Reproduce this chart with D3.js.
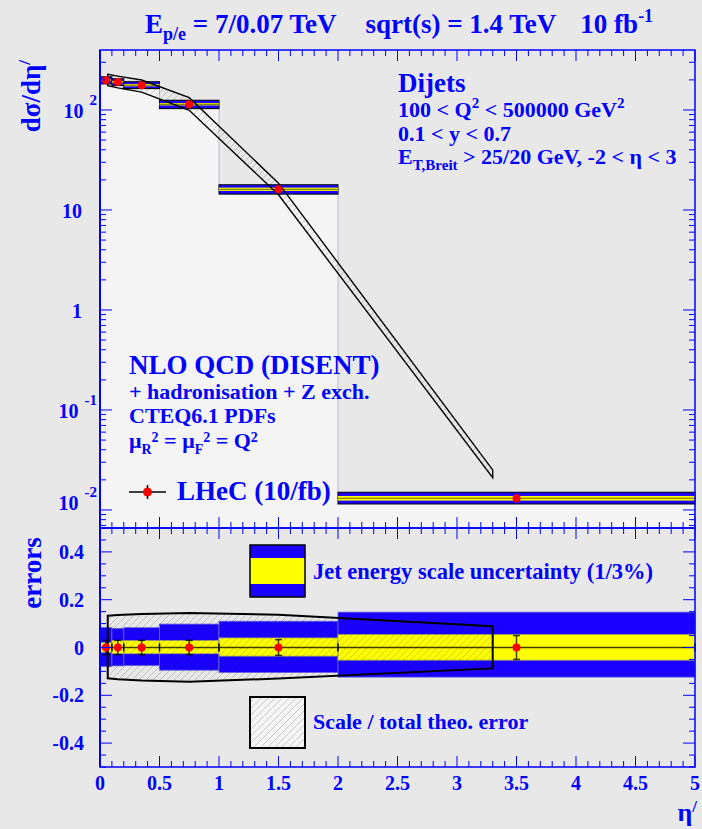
<!DOCTYPE html>
<html>
<head>
<meta charset="utf-8">
<title>LHeC dijets eta'</title>
<script src="https://cdn.jsdelivr.net/npm/d3@7"></script>
<style>
body { margin: 0; background: #e8e8e8; }
svg text { font-family: "Liberation Serif", "Times New Roman", serif; font-weight: bold; fill: #0000ff; white-space: pre; }
</style>
</head>
<body>
<svg id="chart" width="702" height="829"></svg>
<script>
'use strict';

// eta' binning and LHeC pseudo data (dsigma/deta')
var binEdges = [0, 0.1, 0.2, 0.5, 1, 2, 5];
var binCenters = [0.05, 0.15, 0.35, 0.75, 1.5, 3.5];
var xsec = [198, 190, 177, 114, 16.1, 0.0131];
var statErr = [0.03, 0.03, 0.03, 0.03, 0.033, 0.05];

// jet energy scale uncertainty, relative: 3% (blue) and 1% (yellow)
var jes3Up = [0.084, 0.08, 0.083, 0.098, 0.11, 0.148];
var jes3Dn = [0.08, 0.077, 0.076, 0.095, 0.105, 0.124];
var jes1Up = [0.02, 0.029, 0.029, 0.029, 0.04, 0.054];
var jes1Dn = [0.02, 0.026, 0.026, 0.026, 0.036, 0.053];

// NLO QCD (DISENT) with scale uncertainty
var theoEta = [0.065, 0.15, 0.35, 0.75, 1.5, 3.3];
var theoXsec = [201, 192, 175, 116, 16.3, 0.0231];
var theoUp = [0.133, 0.136, 0.14, 0.144, 0.137, 0.089];
var theoDn = [0.129, 0.133, 0.138, 0.143, 0.13, 0.0875];

// axis labels
var xTickLabels = ["0", "0.5", "1", "1.5", "2", "2.5", "3", "3.5", "4", "4.5", "5"];
var logTicks = [100, 10, 1, 0.1, 0.01];
var logTickBase = ["10", "10", "1", "10", "10"];
var logTickExp = ["2", "", "", "-1", "-2"];
var errTicks = [0.4, 0.2, 0, -0.2, -0.4];
var errTickLabels = ["0.4", "0.2", "0", "-0.2", "-0.4"];

var blue = "#0000ff";
var bandBlue = "#1a00ff";
var bandYellow = "#ffff00";

var svg = d3.select("#chart");

var x = d3.scaleLinear().domain([0, 5]).range([100, 695]);
var yTop = d3.scaleLog().domain([0.0066, 398]).range([528, 50]);
var yBot = d3.scaleLinear().domain([-0.5, 0.5]).range([767, 528]);

var defs = svg.append("defs");
defs.append("pattern")
    .attr("id", "hatch")
    .attr("patternUnits", "userSpaceOnUse")
    .attr("width", 7)
    .attr("height", 7)
    .append("path")
    .attr("d", "M-1,1 l2,-2 M0,7 l7,-7 M6,8 l2,-2")
    .attr("stroke", "rgba(0,0,0,0.22)")
    .attr("stroke-width", 0.8);

var line = d3.line();

// ---------- upper panel ----------
var upper = svg.append("g");

// histogram fill under the data
var histPts = [[x(0), yTop.range()[0]]];
xsec.forEach(function (v, i) {
    histPts.push([x(binEdges[i]), yTop(v)]);
    histPts.push([x(binEdges[i + 1]), yTop(v)]);
});
histPts.push([x(5), yTop.range()[0]]);
upper.append("path")
    .attr("d", line(histPts) + "Z")
    .attr("fill", "#f4f4f4")
    .attr("stroke", "#b8b8c8")
    .attr("stroke-width", 1);

// jes bands
xsec.forEach(function (v, i) {
    var x0 = x(binEdges[i]), x1 = x(binEdges[i + 1]);
    upper.append("rect")
        .attr("x", x0).attr("width", x1 - x0)
        .attr("y", yTop(v * (1 + jes3Up[i])))
        .attr("height", yTop(v * (1 - jes3Dn[i])) - yTop(v * (1 + jes3Up[i])))
        .attr("fill", bandBlue)
        .attr("stroke", "#000").attr("stroke-width", 1);
    upper.append("rect")
        .attr("x", x0).attr("width", x1 - x0)
        .attr("y", yTop(v * (1 + jes1Up[i])))
        .attr("height", yTop(v * (1 - jes1Dn[i])) - yTop(v * (1 + jes1Up[i])))
        .attr("fill", bandYellow);
    upper.append("line")
        .attr("x1", x0).attr("x2", x1)
        .attr("y1", yTop(v)).attr("y2", yTop(v))
        .attr("stroke", "#000").attr("stroke-opacity", 0.6).attr("stroke-width", 1);
});

// theory envelope
var theoTop = theoEta.map(function (e, i) { return [x(e), yTop(theoXsec[i] * (1 + theoUp[i]))]; });
var theoBottom = theoEta.map(function (e, i) { return [x(e), yTop(theoXsec[i] * (1 - theoDn[i]))]; }).reverse();
upper.append("path")
    .attr("d", line(theoTop.concat(theoBottom)) + "Z")
    .attr("fill", "url(#hatch)")
    .attr("stroke", "#000")
    .attr("stroke-width", 1.4);

// data points
xsec.forEach(function (v, i) {
    var cx = x(binCenters[i]);
    var ya = yTop(v * (1 + statErr[i])), yb = yTop(v * (1 - statErr[i]));
    upper.append("line").attr("x1", cx).attr("x2", cx).attr("y1", ya).attr("y2", yb)
        .attr("stroke", "#000").attr("stroke-width", 1.5);
    upper.append("line").attr("x1", cx - 3).attr("x2", cx + 3).attr("y1", ya).attr("y2", ya)
        .attr("stroke", "#000").attr("stroke-width", 1.5);
    upper.append("line").attr("x1", cx - 3).attr("x2", cx + 3).attr("y1", yb).attr("y2", yb)
        .attr("stroke", "#000").attr("stroke-width", 1.5);
    upper.append("circle").attr("cx", cx).attr("cy", yTop(v)).attr("r", 4).attr("fill", "#ff0000");
});

// ---------- lower panel ----------
var lower = svg.append("g");

xsec.forEach(function (v, i) {
    var x0 = x(binEdges[i]), x1 = x(binEdges[i + 1]);
    lower.append("rect")
        .attr("x", x0).attr("width", x1 - x0)
        .attr("y", yBot(jes3Up[i]))
        .attr("height", yBot(-jes3Dn[i]) - yBot(jes3Up[i]))
        .attr("fill", bandBlue)
        .attr("stroke", "#6a6ad8").attr("stroke-width", 0.8);
    lower.append("rect")
        .attr("x", x0).attr("width", x1 - x0)
        .attr("y", yBot(jes1Up[i]))
        .attr("height", yBot(-jes1Dn[i]) - yBot(jes1Up[i]))
        .attr("fill", bandYellow)
        .attr("stroke", "#a0a070").attr("stroke-width", 0.8);
});

var relTop = theoEta.map(function (e, i) { return [x(e), yBot(theoUp[i])]; });
var relBottom = theoEta.map(function (e, i) { return [x(e), yBot(-theoDn[i])]; }).reverse();
lower.append("path")
    .attr("d", line(relTop.concat(relBottom)) + "Z")
    .attr("fill", "url(#hatch)")
    .attr("stroke", "#000")
    .attr("stroke-width", 2);

lower.append("line")
    .attr("x1", x(0)).attr("x2", x(5))
    .attr("y1", yBot(0)).attr("y2", yBot(0))
    .attr("stroke", "#000").attr("stroke-opacity", 0.75).attr("stroke-width", 1.5);
binEdges.forEach(function (e) {
    lower.append("line")
        .attr("x1", x(e)).attr("x2", x(e))
        .attr("y1", yBot(0) - 4).attr("y2", yBot(0) + 4)
        .attr("stroke", "#000").attr("stroke-width", 1.5);
});

statErr.forEach(function (err, i) {
    var cx = x(binCenters[i]);
    var ya = yBot(err), yb = yBot(-err);
    lower.append("line").attr("x1", cx).attr("x2", cx).attr("y1", ya).attr("y2", yb)
        .attr("stroke", "#000").attr("stroke-opacity", 0.75).attr("stroke-width", 1.5);
    [ya, yb].forEach(function (yy) {
        lower.append("line").attr("x1", cx - 3.5).attr("x2", cx + 3.5).attr("y1", yy).attr("y2", yy)
            .attr("stroke", "#000").attr("stroke-opacity", 0.75).attr("stroke-width", 1.5);
    });
    lower.append("circle").attr("cx", cx).attr("cy", yBot(0)).attr("r", 4).attr("fill", "#ff0000");
});

// ---------- frames and ticks ----------
var axes = svg.append("g");

function xTicksAt(yPos, dir) {
    x.ticks(50).forEach(function (v) {
        var major = Math.abs(v * 2 - Math.round(v * 2)) < 1e-6;
        axes.append("line")
            .attr("x1", x(v)).attr("x2", x(v))
            .attr("y1", yPos).attr("y2", yPos + dir * (major ? 11 : 6))
            .attr("stroke", blue).attr("stroke-width", 1);
    });
}

function yTicks(scale, values, isMajor) {
    values.forEach(function (v) {
        var len = isMajor(v) ? 12 : 6;
        axes.append("line")
            .attr("x1", x(0)).attr("x2", x(0) + len)
            .attr("y1", scale(v)).attr("y2", scale(v))
            .attr("stroke", blue).attr("stroke-width", 1);
        axes.append("line")
            .attr("x1", x(5)).attr("x2", x(5) - len)
            .attr("y1", scale(v)).attr("y2", scale(v))
            .attr("stroke", blue).attr("stroke-width", 1);
    });
}

xTicksAt(yTop.range()[1], 1);
xTicksAt(yTop.range()[0], -1);
xTicksAt(yBot.range()[1], 1);
xTicksAt(yBot.range()[0], -1);

yTicks(yTop, yTop.ticks(), function (v) {
    var l = Math.log10(v);
    return Math.abs(l - Math.round(l)) < 1e-6;
});
yTicks(yBot, yBot.ticks(20), function (v) {
    return Math.abs(v / 0.2 - Math.round(v / 0.2)) < 1e-6;
});

[[yTop.range()[1], yTop.range()[0]], [yBot.range()[1], yBot.range()[0]]].forEach(function (r) {
    axes.append("rect")
        .attr("x", x(0)).attr("y", r[0])
        .attr("width", x(5) - x(0)).attr("height", r[1] - r[0])
        .attr("fill", "none")
        .attr("stroke", blue).attr("stroke-width", 1.5);
});
axes.append("line")
    .attr("x1", x(0)).attr("x2", x(0))
    .attr("y1", yTop.range()[1]).attr("y2", yBot.range()[0])
    .attr("stroke", blue).attr("stroke-width", 2);

// tick labels
xTickLabels.forEach(function (t) {
    svg.append("text")
        .attr("x", x(+t)).attr("y", 790)
        .attr("text-anchor", "middle")
        .style("font-size", "20px")
        .text(t);
});

errTicks.forEach(function (v, i) {
    svg.append("text")
        .attr("x", 84).attr("y", yBot(v) + 7)
        .attr("text-anchor", "end")
        .style("font-size", "20px")
        .text(errTickLabels[i]);
});

logTicks.forEach(function (v, i) {
    var last = i === logTicks.length - 1;
    var t = svg.append("text")
        .attr("y", yTop(v) + 8 - (last ? 8 : 0))
        .attr("text-anchor", "end")
        .style("font-size", "20px");
    if (logTickExp[i]) {
        t.attr("x", 97);
        t.append("tspan").text(logTickBase[i]);
        t.append("tspan").attr("dx", 6).attr("dy", -13).style("font-size", "15px").text(logTickExp[i]);
    } else {
        t.attr("x", 82).text(logTickBase[i]);
    }
});

// axis titles
var yt = svg.append("text")
    .attr("transform", "translate(40,60) rotate(-90)")
    .attr("text-anchor", "end")
    .style("font-size", "27px");
yt.append("tspan").text("d\u03c3/d\u03b7");
yt.append("tspan").attr("dy", -10).style("font-size", "17px").text("/");

svg.append("text")
    .attr("transform", "translate(41,573) rotate(-90)")
    .attr("text-anchor", "middle")
    .style("font-size", "27px")
    .text("errors");

var xt = svg.append("text")
    .attr("x", 697).attr("y", 821)
    .attr("text-anchor", "end")
    .style("font-size", "26px");
xt.append("tspan").text("\u03b7");
xt.append("tspan").attr("dy", -9).style("font-size", "17px").text("/");

// title
var title = svg.append("text").attr("x", 145).attr("y", 33).style("font-size", "27px");
title.append("tspan").text("E");
title.append("tspan").attr("dy", 7).style("font-size", "18px").text("p/e");
title.append("tspan").attr("dy", -7).text(" = 7/0.07 TeV");
title.append("tspan").attr("dx", 29).text("sqrt(s) = 1.4 TeV");
title.append("tspan").attr("dx", 24).text("10 fb");
title.append("tspan").attr("dy", -11).style("font-size", "18px").text("-1");

// selection text, top right
svg.append("text").attr("x", 398).attr("y", 92).style("font-size", "27px").text("Dijets");
var q2 = svg.append("text").attr("x", 398).attr("y", 117).style("font-size", "22px");
q2.append("tspan").text("100 < Q");
q2.append("tspan").attr("dy", -9).style("font-size", "15px").text("2");
q2.append("tspan").attr("dy", 9).text(" < 500000 GeV");
q2.append("tspan").attr("dy", -9).style("font-size", "15px").text("2");
svg.append("text").attr("x", 398).attr("y", 141).style("font-size", "22px").text("0.1 < y < 0.7");
var et = svg.append("text").attr("x", 398).attr("y", 164).style("font-size", "22px");
et.append("tspan").text("E");
et.append("tspan").attr("dy", 6).style("font-size", "15px").text("T,Breit");
et.append("tspan").attr("dy", -6).text(" > 25/20 GeV, -2 < \u03b7 < 3");

// theory description
svg.append("text").attr("x", 129).attr("y", 374).style("font-size", "27px").text("NLO QCD (DISENT)");
svg.append("text").attr("x", 129).attr("y", 399).style("font-size", "22px").text("+ hadronisation + Z exch.");
svg.append("text").attr("x", 129).attr("y", 423).style("font-size", "22px").text("CTEQ6.1 PDFs");
var mu = svg.append("text").attr("x", 129).attr("y", 448).style("font-size", "22px");
mu.append("tspan").text("\u03bc");
mu.append("tspan").attr("dy", 6).style("font-size", "14px").text("R");
mu.append("tspan").attr("dy", -12).style("font-size", "14px").text("2");
mu.append("tspan").attr("dy", 6).text(" = \u03bc");
mu.append("tspan").attr("dy", 6).style("font-size", "14px").text("F");
mu.append("tspan").attr("dy", -12).style("font-size", "14px").text("2");
mu.append("tspan").attr("dy", 6).text(" = Q");
mu.append("tspan").attr("dy", -6).style("font-size", "14px").text("2");

// data legend
var lg = svg.append("g");
lg.append("line").attr("x1", 129).attr("x2", 166).attr("y1", 492).attr("y2", 492)
    .attr("stroke", "#000").attr("stroke-width", 1.5);
lg.append("line").attr("x1", 147.5).attr("x2", 147.5).attr("y1", 485).attr("y2", 499)
    .attr("stroke", "#000").attr("stroke-width", 1.5);
lg.append("circle").attr("cx", 147.5).attr("cy", 492).attr("r", 4.5).attr("fill", "#ff0000");
svg.append("text").attr("x", 177).attr("y", 500).style("font-size", "27px").text("LHeC (10/fb)");

// lower legends
var jl = svg.append("g");
jl.append("rect").attr("x", 250).attr("y", 545).attr("width", 55).attr("height", 52)
    .attr("fill", bandBlue);
jl.append("rect").attr("x", 250).attr("y", 558).attr("width", 55).attr("height", 26)
    .attr("fill", bandYellow);
jl.append("rect").attr("x", 250).attr("y", 545).attr("width", 55).attr("height", 52)
    .attr("fill", "none").attr("stroke", "#000").attr("stroke-width", 1.5);
svg.append("text").attr("x", 313).attr("y", 579).style("font-size", "22.5px")
    .text("Jet energy scale uncertainty (1/3%)");

svg.append("rect").attr("x", 250).attr("y", 697).attr("width", 55).attr("height", 51)
    .attr("fill", "#f4f4f4");
svg.append("rect").attr("x", 250).attr("y", 697).attr("width", 55).attr("height", 51)
    .attr("fill", "url(#hatch)").attr("stroke", "#000").attr("stroke-width", 2);
svg.append("text").attr("x", 313).attr("y", 729).style("font-size", "22px")
    .text("Scale / total theo. error");
</script>
</body>
</html>
